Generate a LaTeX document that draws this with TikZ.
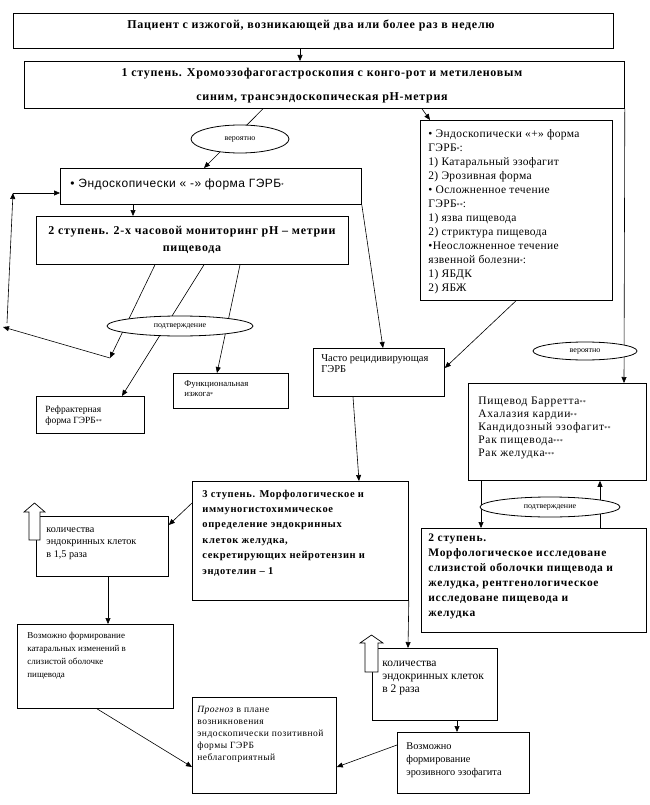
\documentclass[tikz,border=0pt]{standalone}
\usepackage{fontspec}
\setmainfont{Liberation Serif}
\newfontfamily\arialfont{Liberation Sans}
\usetikzlibrary{arrows.meta, shapes.geometric}

\newcommand\stars[1]{{\fontsize{6}{6}\selectfont #1}}

% text nodes are placed at the baseline of their last line
\tikzset{
  box/.style={draw, rectangle, inner sep=0pt, anchor=north west},
  txt/.style={inner sep=0pt, anchor=base west, align=left},
  head/.style={inner sep=0pt, anchor=base, align=center,
    font=\fontsize{12}{24}\selectfont\bfseries\addfontfeatures{LetterSpace=6}},
  bold/.style={inner sep=0pt, anchor=base west, align=left},
  oval/.style={draw, ellipse, fill=white, inner sep=0pt, font=\fontsize{8}{8}\selectfont},
  link/.style={->, line width=0.6pt},
  hollow/.style={draw, fill=white, line width=0.7pt}
}

\begin{document}
\begin{tikzpicture}[x=1pt, y=-1pt, line width=0.8pt, >={Triangle[length=6pt,width=5pt]}]
\useasboundingbox (0,0) rectangle (649,805);

% boxes
\node[box, minimum width=600pt, minimum height=35pt] (pat) at (13,13) {};
\node[box, minimum width=600pt, minimum height=47pt] (st1) at (24,61) {};
\node[box, minimum width=301pt, minimum height=36pt] (minus) at (60,168) {};
\node[box, minimum width=312pt, minimum height=48pt] (st2) at (36,216) {};
\node[box, minimum width=192pt, minimum height=180pt] (plus) at (420,120) {};
\node[box, minimum width=108pt, minimum height=37pt] (refr) at (36,396) {};
\node[box, minimum width=115pt, minimum height=35pt] (func) at (173,373) {};
\node[box, minimum width=131pt, minimum height=48pt] (chasto) at (313,348) {};
\node[box, minimum width=178pt, minimum height=97pt] (barrett) at (468,383) {};
\node[box, minimum width=225pt, minimum height=104pt] (st2r) at (421,528) {};
\node[box, minimum width=216pt, minimum height=119pt] (st3) at (192,481) {};
\node[box, minimum width=132pt, minimum height=60pt] (kol15) at (36,516) {};
\node[box, minimum width=156pt, minimum height=84pt] (katar) at (17,624) {};
\node[box, minimum width=125pt, minimum height=72pt] (kol2) at (372,648) {};
\node[box, minimum width=144pt, minimum height=96pt] (prog) at (192,697) {};
\node[box, minimum width=132pt, minimum height=61pt] (eroz) at (397,732) {};

% texts
\node[head] at (311,29) {Пациент с изжогой, возникающей два или более раз в неделю};
\node[head] at (322,101) {1 ступень. Хромоэзофагогастроскопия с конго-рот и метиленовым\\
  синим, трансэндоскопическая рН-метрия};
\node[txt, font=\arialfont\fontsize{12}{14}\selectfont\addfontfeatures{LetterSpace=4}] at (70,188)
  {• Эндоскопически « -» форма ГЭРБ\stars{*}};
\node[head, font=\fontsize{12}{17}\selectfont\bfseries\addfontfeatures{LetterSpace=6}] at (192,251)
  {2 ступень. 2-х часовой мониторинг рН – метрии\\ пищевода};
\node[txt, font=\fontsize{11.5}{14}\selectfont\addfontfeatures{LetterSpace=3}] at (428,291)
  {• Эндоскопически «+» форма\\ ГЭРБ\stars{*}:\\ 1) Катаральный эзофагит\\ 2) Эрозивная форма\\
   • Осложненное течение\\ ГЭРБ\stars{**}:\\ 1) язва пищевода\\ 2) стриктура пищевода\\
   •Неосложненное течение\\ язвенной болезни\stars{*}:\\ 1) ЯБДК\\ 2) ЯБЖ};
\node[txt, font=\fontsize{9.5}{11}\selectfont] at (45,423) {Рефрактерная\\ форма ГЭРБ\stars{**}};
\node[txt, font=\fontsize{8.8}{10}\selectfont] at (184,396) {Функциональная\\ изжога\stars{*}};
\node[txt, font=\fontsize{10.5}{11}\selectfont] at (321,372) {Часто рецидивирующая\\ ГЭРБ};
\node[txt, font=\fontsize{11.5}{12.8}\selectfont\addfontfeatures{LetterSpace=6}] at (478,456)
  {Пищевод Барретта\stars{**}\\ Ахалазия кардии\stars{**}\\ Кандидозный эзофагит\stars{**}\\
   Рак пищевода\stars{***}\\ Рак желудка\stars{***}};
\node[bold, font=\fontsize{11.5}{15}\selectfont\bfseries\addfontfeatures{LetterSpace=6}] at (428,616)
  {2 ступень.\\ Морфологическое исследоване\\ слизистой оболочки пищевода и\\
   желудка, рентгенологическое\\ исследоване пищевода и\\ желудка};
\node[bold, font=\fontsize{10.5}{15.4}\selectfont\bfseries\addfontfeatures{LetterSpace=6}] at (202,574)
  {3 ступень. Морфологическое и\\ иммуногистохимическое\\ определение эндокринных\\
   клеток желудка,\\ секретирующих нейротензин и\\ эндотелин – 1};
\node[txt, font=\fontsize{10.2}{12.5}\selectfont] at (46,557) {количества\\ эндокринных клеток\\ в 1,5 раза};
\node[txt, font=\fontsize{9}{12.7}\selectfont] at (27,677)
  {Возможно формирование\\ катаральных изменений в\\ слизистой оболочке\\ пищевода};
\node[txt, font=\fontsize{11.5}{13}\selectfont] at (382,692) {количества\\ эндокринных клеток\\ в 2 раза};
\node[txt, font=\fontsize{9.5}{12}\selectfont\addfontfeatures{LetterSpace=5}] at (197,760)
  {\textit{Прогноз} в плане\\ возникновения\\ эндоскопически позитивной\\ формы ГЭРБ\\ неблагоприятный};
\node[txt, font=\fontsize{10.3}{13}\selectfont] at (406,775)
  {Возможно\\ формирование\\ эрозивного эзофагита};

% connectors
\draw[link] ([xshift=287pt]pat.south west) -- ([xshift=276pt]st1.north west);
\draw[link] ([xshift=239pt]st1.south west) -- ([xshift=144pt]minus.north west);
\draw[link] ([xshift=398pt]st1.south west) -- ([xshift=10pt]plus.north west);
\draw[link] (st1.south east) -- ([xshift=156pt]barrett.north west);
\draw[link] ([xshift=73pt]minus.south west) -- ([xshift=97pt]st2.north west);
\draw[link] (minus.south east) -- ([xshift=70pt]chasto.north west);
\coordinate (loopA) at (110,358);
\coordinate (loopB) at (3,327);
\coordinate (loopC) at (7,323);
\coordinate (loopD) at (13,193);
\draw[link] ([xshift=119pt]st2.south west) -- (loopA);
\draw[link] (loopA) -- (loopB);
\draw[link] (loopC) -- (loopD);
\draw[link] (loopD) -- ([yshift=-25pt]minus.north west);
\draw[link] ([xshift=168pt]st2.south west) -- ([xshift=86pt]refr.north west);
\draw[link] ([xshift=204pt]st2.south west) -- ([xshift=44pt]func.north west);
\draw[link] ([xshift=96pt]plus.south west) -- ([yshift=-20pt]chasto.north east);
\draw[link] ([xshift=40pt]chasto.south west) -- ([xshift=167pt]st3.north west);
\draw[link] ([xshift=13pt]barrett.south west) -- ([xshift=60pt]st2r.north west);
\draw[link] ([xshift=179pt]st2r.north west) -- ([xshift=132pt]barrett.south west);
\draw[link] ([yshift=-22pt]st3.north west) -- ([yshift=-9pt]kol15.north east);
\draw[link] ([xshift=72pt]kol15.south west) -- ([xshift=91pt]katar.north west);
\draw[link] (st3.south east) -- ([xshift=36pt]kol2.north west);
\draw[link] ([xshift=85pt]kol2.south west) -- ([xshift=60pt]eroz.north west);
\draw[link] ([yshift=-13pt]eroz.north west) -- ([yshift=-70pt]prog.north east);
\draw[link] ([xshift=80pt]katar.south west) -- ([yshift=-70pt]prog.north west);

% ovals on top of the lines
\node[oval, minimum width=98pt, minimum height=28pt] (ver1) at (240,139) {вероятно};
\node[oval, minimum width=146pt, minimum height=20pt] (podt1) at (180,326) {подтверждение};
\node[oval, minimum width=104pt, minimum height=18pt] (ver2) at (585,351) {вероятно};
\node[oval, minimum width=140pt, minimum height=20pt] (podt2) at (550,507) {подтверждение};

% hollow up arrows
\draw[hollow] (29,540) -- (40,540) -- (40,512) -- (45,512) -- (34.5,503) -- (24,512) -- (29,512) -- cycle;
\draw[hollow] (365,672) -- (378,672) -- (378,643) -- (383,643) -- (371.5,635) -- (360,643) -- (365,643) -- cycle;
\end{tikzpicture}
\end{document}
